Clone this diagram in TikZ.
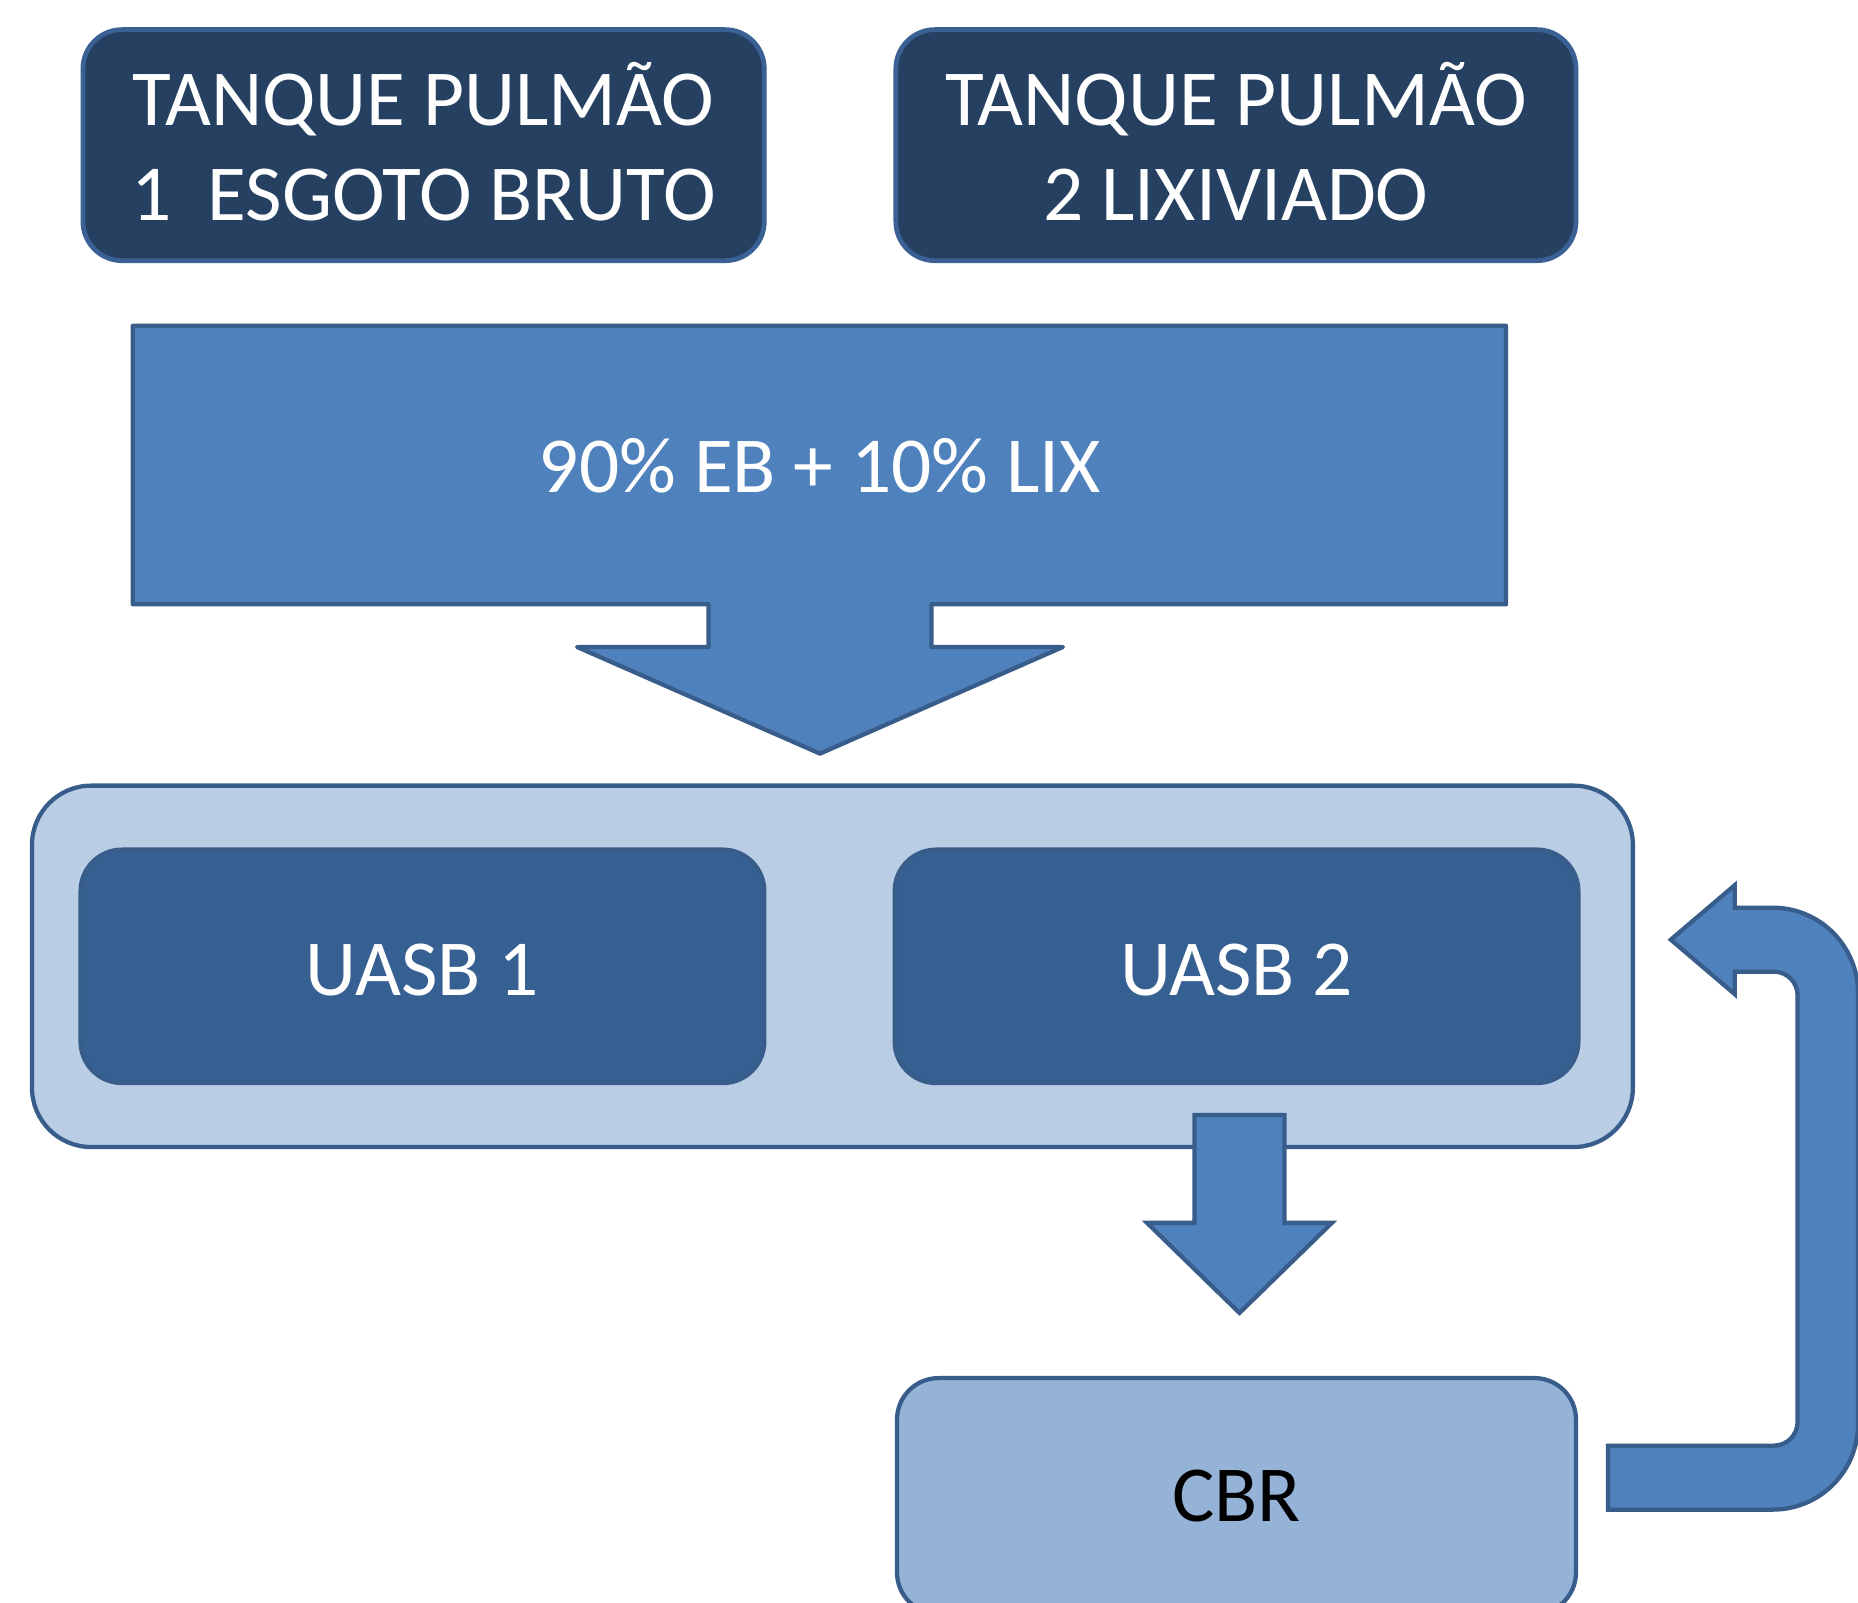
\documentclass[tikz,border=0pt]{standalone}
\usepackage{fontspec}
\setmainfont{Carlito}
\definecolor{navy}{HTML}{254061}
\definecolor{navyedge}{HTML}{3B6093}
\definecolor{edge}{HTML}{385D8A}
\definecolor{arrowfill}{HTML}{4F81BD}
\definecolor{contfill}{HTML}{B9CDE5}
\definecolor{uasbfill}{HTML}{366092}
\definecolor{cbrfill}{HTML}{95B3D7}
\tikzset{
  boxbase/.style={rectangle, inner sep=0pt, line width=1.8pt, draw=edge},
  tankbox/.style={boxbase, fill=navy, draw=navyedge, line width=2pt, rounded corners=16.5pt,
                  minimum height=97.5pt},
  wtext/.style={text=white, inner sep=0pt, font=\fontsize{33.5pt}{40pt}\selectfont},
  contbox/.style={boxbase, fill=contfill, rounded corners=25pt},
  uasbbox/.style={boxbase, fill=uasbfill, rounded corners=17.5pt, minimum width=288.5pt,
                  minimum height=98.5pt, text=white, text height=24.5pt, text depth=0pt,
                  font=\fontsize{33.5pt}{40pt}\selectfont},
  cbrbox/.style={boxbase, fill=cbrfill, rounded corners=17.5pt, minimum width=286.5pt,
                 minimum height=99.5pt, text=black, font=\fontsize{33.5pt}{40pt}\selectfont},
  bigarrow/.style={fill=arrowfill, draw=edge, line width=1.8pt, line join=round},
}
\begin{document}
\begin{tikzpicture}[x=0.5pt,y=-0.5pt]
\clip (0,0) rectangle (1568,1352);
\fill[white] (0,0) rectangle (1568,1352);

% tanks
\node[tankbox, minimum width=287.5pt] (tp1) at (357.5,122.5) {};
\node[wtext, anchor=base] (tp1a) at (357.5,106) {TANQUE PULMÃO};
\node[wtext, anchor=base] (tp1b) at (357.5,186) {1\ \ ESGOTO BRUTO};

\node[tankbox, minimum width=287pt] (tp2) at (1043,122.5) {};
\node[wtext, anchor=base] (tp2a) at (1043,106) {TANQUE PULMÃO};
\node[wtext, anchor=base] (tp2b) at (1043,186) {2 LIXIVIADO};

% big mixing arrow
\draw[bigarrow] (112,275) -- (1271,275) -- (1271,510) -- (786,510) -- (786,546)
  -- (897,546) -- (692,636) -- (487,546) -- (598,546) -- (598,510) -- (112,510) -- cycle;
\node[wtext, anchor=base] (mix) at (692,416) {90\% EB + 10\% LIX};

% reactor container
\node[contbox, minimum width=675.5pt, minimum height=152.5pt] (cont) at (702.5,815.5) {};
\node[uasbbox] (uasb1) at (356.5,815.5) {UASB 1};
\node[uasbbox] (uasb2) at (1043.5,815.5) {UASB 2};

% down arrow
\draw[bigarrow, line join=miter] (1008,941) -- (1084,941) -- (1084,1032) -- (1124,1032)
  -- (1046,1108) -- (968,1032) -- (1008,1032) -- cycle;

% CBR
\node[cbrbox] (cbr) at (1043.5,1262.5) {CBR};

% return U-turn arrow
\draw[bigarrow, line join=miter] (1357,1220) [rounded corners=10pt] -- (1517,1220) -- (1517,820)
  [sharp corners] -- (1464,820) -- (1464,839) -- (1410,793) -- (1464,747) -- (1464,766)
  [rounded corners=36pt] -- (1568,766) -- (1568,1274) [sharp corners] -- (1357,1274) -- cycle;
\end{tikzpicture}
\end{document}
